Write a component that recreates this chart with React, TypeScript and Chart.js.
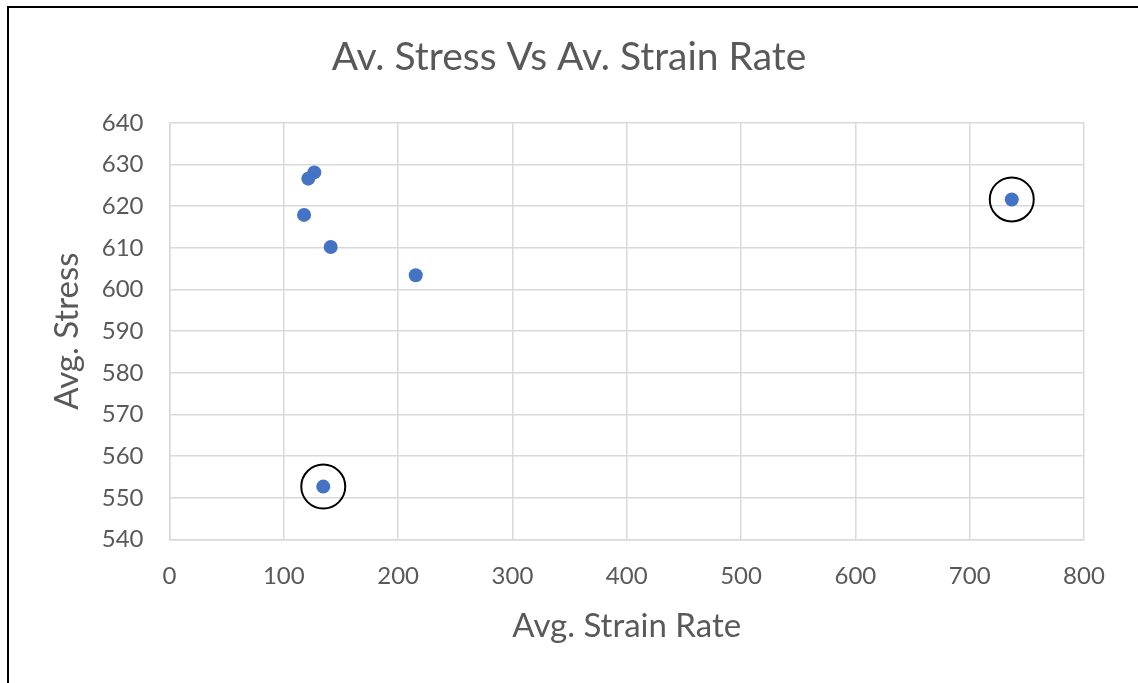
import { useEffect, useRef } from "react";
import { Chart, registerables } from "chart.js";

Chart.register(...registerables);

// Average strain rate (x) and average stress (y) for each test
const strainRate = [126.7, 121.4, 117.7, 141.0, 215.4, 134.5, 736.8];
const stress = [628.1, 626.6, 617.9, 610.2, 603.4, 552.7, 621.6];
// Tests that are ringed as outliers
const circledIdx = [5, 6];

const xMin = 0;
const xMax = 800;
const xStep = 100;
const yMin = 540;
const yMax = 640;
const yStep = 10;

const chartTitle = "Av. Stress Vs Av. Strain Rate";
const xTitle = "Avg. Strain Rate";
const yTitle = "Avg. Stress";

const FONT = "Lato, 'Open Sans', sans-serif";
const TEXT = "#595959";
const GRID = "#d9d9d9";
const BLUE = "#4472c4";

export default function App() {
  const ref = useRef<HTMLCanvasElement | null>(null);

  useEffect(() => {
    if (!ref.current) return;
    const points = strainRate.map((x, i) => ({ x, y: stress[i] }));
    const rings = circledIdx.map((i) => ({ x: strainRate[i], y: stress[i] }));

    const chart = new Chart(ref.current, {
      type: "scatter",
      data: {
        datasets: [
          {
            data: points,
            pointRadius: 7,
            pointHoverRadius: 7,
            pointBackgroundColor: BLUE,
            pointBorderWidth: 0,
            order: 2,
          },
          {
            data: rings,
            pointRadius: 22,
            pointHoverRadius: 22,
            pointBackgroundColor: "rgba(0,0,0,0)",
            pointBorderColor: "#000000",
            pointBorderWidth: 2,
            order: 1,
          },
        ],
      },
      options: {
        animation: false,
        responsive: false,
        layout: { padding: 0 },
        plugins: {
          legend: { display: false },
          tooltip: { enabled: false },
          title: {
            display: true,
            text: chartTitle,
            color: TEXT,
            font: { family: FONT, size: 39, weight: "normal" },
            padding: { top: 34, bottom: 42 },
          },
        },
        scales: {
          x: {
            type: "linear",
            min: xMin,
            max: xMax,
            ticks: {
              stepSize: xStep,
              color: TEXT,
              font: { family: FONT, size: 24 },
              padding: 22,
            },
            grid: { color: GRID, lineWidth: 1.5, drawTicks: false },
            border: { color: GRID, width: 1.5 },
            title: {
              display: true,
              text: xTitle,
              color: TEXT,
              font: { family: FONT, size: 33 },
              padding: { top: 0, bottom: 37 },
            },
            afterFit: (s: any) => {
              s.height = 143.5;
            },
          },
          y: {
            type: "linear",
            min: yMin,
            max: yMax,
            ticks: {
              stepSize: yStep,
              color: TEXT,
              font: { family: FONT, size: 24 },
              padding: 26,
            },
            grid: { color: GRID, lineWidth: 1.5, drawTicks: false },
            border: { color: GRID, width: 1.5 },
            title: {
              display: true,
              text: yTitle,
              color: TEXT,
              font: { family: FONT, size: 33 },
              padding: { top: 48, bottom: 0 },
            },
            afterFit: (s: any) => {
              s.width = 169.5;
            },
          },
          yRight: {
            type: "linear",
            position: "right",
            display: true,
            grid: { display: false, drawTicks: false },
            border: { display: false },
            ticks: { display: false },
            afterFit: (s: any) => {
              s.width = 54;
            },
          },
        },
      },
    });
    return () => chart.destroy();
  }, []);

  return (
    <div
      style={{
        position: "absolute",
        left: 0,
        top: 0,
        width: 1138,
        height: 683,
        background: "#ffffff",
      }}
    >
      <canvas ref={ref} width={1138} height={683} style={{ display: "block" }} />
      <div
        style={{
          position: "absolute",
          left: 7,
          top: 6,
          right: 0,
          bottom: 0,
          borderLeft: "2px solid #000",
          borderTop: "2px solid #000",
          pointerEvents: "none",
        }}
      />
    </div>
  );
}
